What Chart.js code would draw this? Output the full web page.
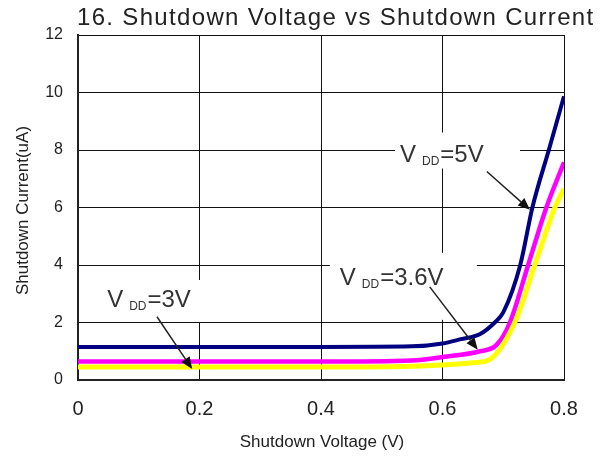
<!DOCTYPE html>
<html>
<head>
<meta charset="utf-8">
<script src="https://cdn.jsdelivr.net/npm/chart.js@4.4.0/dist/chart.umd.min.js"></script>
<style>
  html, body { margin: 0; padding: 0; background: #fff; }
</style>
</head>
<body>
<canvas id="chart" width="606" height="462"></canvas>
<script>
const xTicks = ['0', '0.2', '0.4', '0.6', '0.8'];
const yTicks = ['0', '2', '4', '6', '8', '10', '12'];

// VDD = 5V
const vdd5Volts   = [0, 0.2, 0.4, 0.55, 0.6, 0.63, 0.662, 0.686, 0.70, 0.728, 0.748, 0.775, 0.8];
const vdd5Current = [1.15, 1.15, 1.15, 1.17, 1.27, 1.42, 1.6, 2.0, 2.35, 4.0, 6.0, 8.0, 9.87];

// VDD = 3.6V
const vdd36Volts   = [0, 0.2, 0.4, 0.55, 0.6, 0.662, 0.689, 0.711, 0.741, 0.771, 0.8];
const vdd36Current = [0.64, 0.64, 0.64, 0.68, 0.8, 1.0, 1.22, 2.0, 4.0, 6.0, 7.57];

// VDD = 3V
const vdd3Volts   = [0, 0.2, 0.4, 0.55, 0.6, 0.65, 0.678, 0.719, 0.752, 0.785, 0.8];
const vdd3Current = [0.45, 0.45, 0.45, 0.48, 0.52, 0.6, 0.72, 2.0, 4.0, 6.0, 6.66];

const FONT = '"Liberation Sans", Arial, sans-serif';

function toPoints(xs, ys) {
    return xs.map((v, i) => ({ x: v, y: ys[i] }));
}

// callouts: text anchor and arrow in data units, white box in px around the text
const callouts = [
    { value: '5V',   at: [0.530, 7.6],  box: [-5, -29, 125, 36],  from: [0.673, 7.25], to: [0.744, 5.92] },
    { value: '3.6V', at: [0.431, 3.31], box: [-10, -32, 147, 67], from: [0.579, 3.24], to: [0.658, 1.05] },
    { value: '3V',   at: [0.048, 2.54], box: [-7, -27, 105, 42],  from: [0.130, 2.2],  to: [0.188, 0.38] }
];

function drawArrow(ctx, x1, y1, x2, y2) {
    const ang = Math.atan2(y2 - y1, x2 - x1);
    const head = 12, half = 5;
    const bx = x2 - head * Math.cos(ang), by = y2 - head * Math.sin(ang);
    ctx.beginPath();
    ctx.moveTo(x1, y1);
    ctx.lineTo(bx, by);
    ctx.stroke();
    ctx.beginPath();
    ctx.moveTo(x2, y2);
    ctx.lineTo(bx + half * Math.sin(ang), by - half * Math.cos(ang));
    ctx.lineTo(bx - half * Math.sin(ang), by + half * Math.cos(ang));
    ctx.closePath();
    ctx.fill();
}

const textPlugin = {
    id: 'chartText',
    beforeDatasetsDraw(chart) {
        const { ctx, scales: { x, y } } = chart;
        ctx.save();
        callouts.forEach(c => {
            const px = x.getPixelForValue(c.at[0]);
            const py = y.getPixelForValue(c.at[1]);
            ctx.fillStyle = '#fff';
            ctx.fillRect(px + c.box[0], py + c.box[1], c.box[2], c.box[3]);
            ctx.fillStyle = '#333';
            ctx.textAlign = 'left';
            ctx.textBaseline = 'alphabetic';
            ctx.font = '24px ' + FONT;
            ctx.fillText('V', px, py);
            let cx = px + ctx.measureText('V').width + 6;
            ctx.font = '12px ' + FONT;
            ctx.fillText('DD', cx, py + 3);
            cx += ctx.measureText('DD').width + 1;
            ctx.font = '24px ' + FONT;
            ctx.fillText('=' + c.value, cx, py);
        });
        ctx.restore();
    },
    afterDatasetsDraw(chart) {
        const { ctx, scales: { x, y } } = chart;
        ctx.save();
        ctx.strokeStyle = '#222';
        ctx.fillStyle = '#111';
        ctx.lineWidth = 1.5;
        callouts.forEach(c => {
            drawArrow(ctx,
                x.getPixelForValue(c.from[0]), y.getPixelForValue(c.from[1]),
                x.getPixelForValue(c.to[0]), y.getPixelForValue(c.to[1]));
        });
        ctx.restore();
    },
    afterDraw(chart) {
        const { ctx, chartArea } = chart;
        ctx.save();
        ctx.fillStyle = '#222';

        // title, stretched like the original
        const title = '16. Shutdown Voltage vs Shutdown Current';
        ctx.font = '24px ' + FONT;
        const w = ctx.measureText(title).width;
        ctx.letterSpacing = ((516 - w) / (title.length - 1)).toFixed(2) + 'px';
        ctx.textAlign = 'left';
        ctx.textBaseline = 'alphabetic';
        ctx.fillText(title, 77, 25);
        ctx.letterSpacing = '0px';

        ctx.font = '17px ' + FONT;
        ctx.textAlign = 'center';
        ctx.textBaseline = 'middle';
        ctx.fillText('Shutdown Voltage (V)', 322, 442);

        ctx.translate(23, (chartArea.top + chartArea.bottom) / 2 + 3);
        ctx.rotate(-Math.PI / 2);
        ctx.fillText('Shutdown Current(uA)', 0, 0);
        ctx.restore();
    }
};

new Chart(document.getElementById('chart'), {
    type: 'line',
    data: {
        datasets: [
            { label: 'VDD=3V',   data: toPoints(vdd3Volts, vdd3Current),   borderColor: '#ffff00', borderWidth: 5 },
            { label: 'VDD=3.6V', data: toPoints(vdd36Volts, vdd36Current), borderColor: '#ff00ff', borderWidth: 4.5 },
            { label: 'VDD=5V',   data: toPoints(vdd5Volts, vdd5Current),   borderColor: '#000080', borderWidth: 4 }
        ]
    },
    options: {
        responsive: false,
        animation: false,
        cubicInterpolationMode: 'monotone',
        elements: { point: { radius: 0 } },
        layout: { padding: { top: 35, right: 42, left: 0, bottom: 0 } },
        plugins: {
            legend: { display: false },
            tooltip: { enabled: false }
        },
        scales: {
            x: {
                type: 'linear',
                min: 0,
                max: 0.8,
                afterFit: s => { s.height = 82; },
                ticks: {
                    stepSize: 0.2,
                    color: '#222',
                    padding: 17,
                    font: { family: FONT, size: 20 },
                    callback: (v, i) => xTicks[i]
                },
                grid: { color: '#111', lineWidth: 1, drawTicks: false },
                border: { color: '#222', width: 2 }
            },
            y: {
                min: 0,
                max: 12,
                afterFit: s => { s.width = 78; },
                ticks: {
                    stepSize: 2,
                    color: '#222',
                    padding: 15,
                    font: { family: FONT, size: 16 },
                    callback: (v, i) => yTicks[i]
                },
                grid: { color: '#111', lineWidth: 1, drawTicks: false },
                border: { color: '#222', width: 2 }
            }
        }
    },
    plugins: [textPlugin]
});
</script>
</body>
</html>
